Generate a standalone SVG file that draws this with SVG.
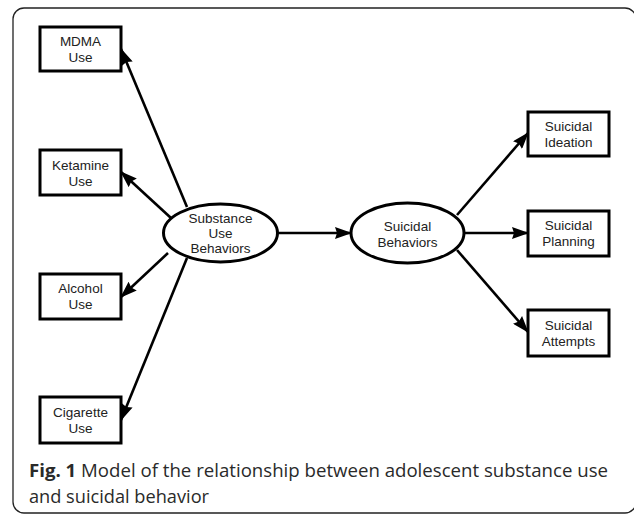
<svg xmlns="http://www.w3.org/2000/svg" width="634" height="517" viewBox="0 0 634 517">
<defs>
<style>
.box{fill:#fff;stroke:#000;stroke-width:3}
.ell{fill:#fff;stroke:#000;stroke-width:3}
.lbl{font-family:"Liberation Sans",Arial,sans-serif;font-size:13.5px;fill:#222;text-anchor:middle}
.edge{stroke:#000;stroke-width:2.6;fill:none;marker-end:url(#ah)}
.cap{font-family:"Open Sans","Noto Sans",sans-serif;font-size:18px;fill:#2a2a2a}
</style>
<marker id="ah" viewBox="0 0 17 12" refX="16" refY="6" markerWidth="17" markerHeight="12" markerUnits="userSpaceOnUse" orient="auto">
<path d="M0,0 L17,6 L0,12 L2,6 z" fill="#000"/>
</marker>
</defs>
<rect x="13" y="8" width="623" height="505" rx="11" fill="#fff" stroke="#222" stroke-width="1.3"/>
<g id="connectors">
<line class="edge" x1="187" y1="207" x2="121" y2="49"/>
<line class="edge" x1="171" y1="218" x2="121" y2="172"/>
<line class="edge" x1="168" y1="253" x2="121" y2="297"/>
<line class="edge" x1="187" y1="258" x2="121" y2="420"/>
<line class="edge" x1="278" y1="233" x2="351" y2="233"/>
<line class="edge" x1="457" y1="215" x2="528" y2="133"/>
<line class="edge" x1="464" y1="233" x2="528" y2="233"/>
<line class="edge" x1="457" y1="250" x2="528" y2="332"/>
</g>
<g id="mdma"><rect class="box" x="40" y="27" width="81" height="44"/><text class="lbl" x="80.5" y="46">MDMA</text><text class="lbl" x="80.5" y="62">Use</text></g>
<g id="ketamine"><rect class="box" x="40" y="150" width="81" height="45"/><text class="lbl" x="80.5" y="170">Ketamine</text><text class="lbl" x="80.5" y="186">Use</text></g>
<g id="alcohol"><rect class="box" x="40" y="274" width="81" height="45"/><text class="lbl" x="80.5" y="293">Alcohol</text><text class="lbl" x="80.5" y="309">Use</text></g>
<g id="cigarette"><rect class="box" x="40" y="397" width="81" height="46"/><text class="lbl" x="80.5" y="417">Cigarette</text><text class="lbl" x="80.5" y="433">Use</text></g>
<g id="substance"><ellipse class="ell" cx="220.5" cy="233" rx="57" ry="29"/><text class="lbl" x="220.5" y="223">Substance</text><text class="lbl" x="220.5" y="238">Use</text><text class="lbl" x="220.5" y="253">Behaviors</text></g>
<g id="suicidal"><ellipse class="ell" cx="407.5" cy="233" rx="56.5" ry="30"/><text class="lbl" x="407.5" y="231">Suicidal</text><text class="lbl" x="407.5" y="247">Behaviors</text></g>
<g id="ideation"><rect class="box" x="528" y="112" width="81" height="44"/><text class="lbl" x="568.5" y="131">Suicidal</text><text class="lbl" x="568.5" y="147">Ideation</text></g>
<g id="planning"><rect class="box" x="528" y="211" width="81" height="45"/><text class="lbl" x="568.5" y="230">Suicidal</text><text class="lbl" x="568.5" y="246">Planning</text></g>
<g id="attempts"><rect class="box" x="528" y="310" width="81" height="46"/><text class="lbl" x="568.5" y="330">Suicidal</text><text class="lbl" x="568.5" y="346">Attempts</text></g>
<text class="cap" x="29" y="477" textLength="579" lengthAdjust="spacingAndGlyphs"><tspan font-weight="bold">Fig. 1</tspan> Model of the relationship between adolescent substance use</text>
<text class="cap" x="29" y="503" textLength="180" lengthAdjust="spacingAndGlyphs">and suicidal behavior</text>
</svg>
